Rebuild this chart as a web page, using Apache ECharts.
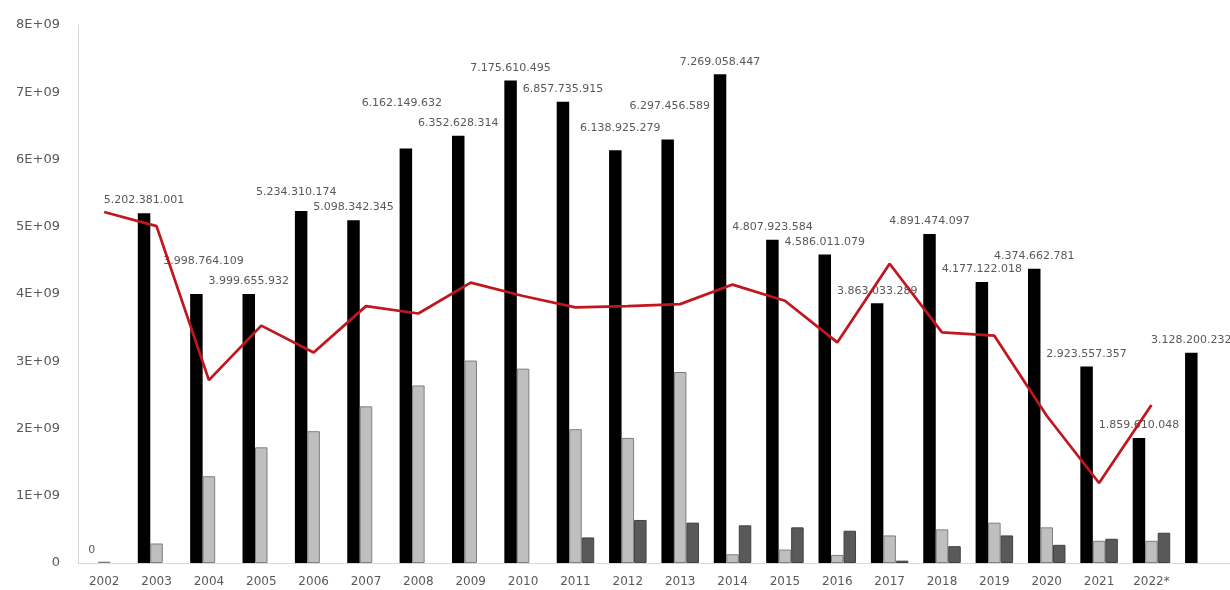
<!DOCTYPE html>
<html>
<head>
<meta charset="utf-8">
<script src="https://cdn.jsdelivr.net/npm/echarts@6/dist/echarts.min.js"></script>
<style>
html,body{margin:0;padding:0;background:#fff;}
#chart{width:1230px;height:590px;}
</style>
</head>
<body>
<div id="chart"></div>
<script>
const categories = ['2002','2003','2004','2005','2006','2007','2008','2009','2010','2011','2012','2013','2014','2015','2016','2017','2018','2019','2020','2021','2022*',''];
const blackValues = [0,5202381001,3998764109,3999655932,5234310174,5098342345,6162149632,6352628314,7175610495,6857735915,6138925279,6297456589,7269058447,4807923584,4586011079,3863033289,4891474097,4177122018,4374662781,2923557357,1859610048,3128200232];
const lightValues = [0.02e9,0.29e9,1.29e9,1.72e9,1.96e9,2.33e9,2.64e9,3.01e9,2.89e9,1.99e9,1.86e9,2.84e9,0.13e9,0.20e9,0.12e9,0.41e9,0.50e9,0.60e9,0.53e9,0.33e9,0.33e9,null];
const darkValues = [null,null,null,null,null,null,null,null,null,0.38e9,0.64e9,0.60e9,0.56e9,0.53e9,0.48e9,0.035e9,0.25e9,0.41e9,0.27e9,0.36e9,0.45e9,null];
const lineValues = [5.22e9,5.01e9,2.72e9,3.53e9,3.13e9,3.82e9,3.71e9,4.17e9,3.97e9,3.80e9,3.82e9,3.85e9,4.14e9,3.90e9,3.28e9,4.45e9,3.43e9,3.38e9,2.19e9,1.19e9,2.35e9,null];
const yTicks = [0,1e9,2e9,3e9,4e9,5e9,6e9,7e9,8e9];

// label nudges (layout only), by category index
const labelNudge = {2:[7,-20],4:[-5,-6],6:[-4,-33],10:[5,-10],11:[2,-21]};

function dotFmt(v){ return String(v).replace(/\B(?=(\d{3})+(?!\d))/g,'.'); }

const blackData = blackValues.map((v,i)=>{
  const item = {value:v};
  if (labelNudge[i]) item.label = {offset: labelNudge[i]};
  return item;
});

const chart = echarts.init(document.getElementById('chart'), null, {renderer:'canvas'});
chart.setOption({
  animation:false,
  backgroundColor:'#ffffff',
  grid:{left:78,right:0,top:25,bottom:27,containLabel:false},
  xAxis:{
    type:'category',
    data:categories,
    boundaryGap:true,
    axisTick:{show:false},
    axisLine:{lineStyle:{color:'#d9d9d9',width:1}},
    axisLabel:{color:'#595959',fontFamily:'DejaVu Sans',fontSize:12,margin:13,interval:0}
  },
  yAxis:{
    type:'value',
    min:0,max:8e9,interval:1e9,
    splitLine:{show:false},
    axisLine:{show:true,lineStyle:{color:'#d9d9d9',width:1}},
    axisTick:{show:false},
    axisLabel:{
      color:'#595959',fontFamily:'DejaVu Sans',fontSize:13,margin:18,
      formatter:function(v){
        if (!yTicks.includes(v)) return '';
        return v===0 ? '0' : (Math.round(v/1e9))+'E+09';
      }
    }
  },
  series:[
    {
      name:'black',type:'bar',data:blackData,barWidth:12.5,barGap:'0%',
      itemStyle:{color:'#000000'},
      label:{show:true,position:'top',distance:7,color:'#595959',fontFamily:'DejaVu Sans',fontSize:11,
        formatter:function(p){return dotFmt(p.value);}}
    },
    {
      name:'light',type:'bar',data:lightValues,barWidth:12.5,barGap:'0%',
      itemStyle:{color:'#BFBFBF',borderColor:'#7F7F7F',borderWidth:1}
    },
    {
      name:'dark',type:'bar',data:darkValues,barWidth:12.5,barGap:'0%',
      itemStyle:{color:'#595959',borderColor:'#404040',borderWidth:1}
    },
    {
      name:'line',type:'line',data:lineValues,symbol:'none',z:5,
      lineStyle:{color:'#C0161F',width:2.75},
      itemStyle:{color:'#C0161F'}
    }
  ]
});
</script>
</body>
</html>
